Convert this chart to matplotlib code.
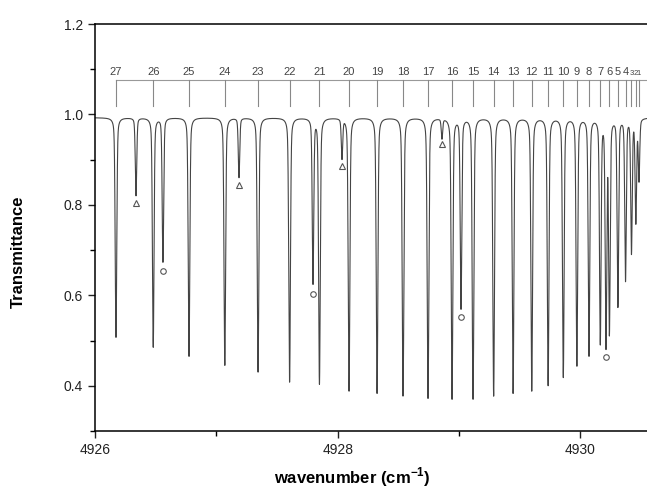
import numpy as np
import matplotlib
matplotlib.use('Agg')
import matplotlib.pyplot as plt
from matplotlib.ticker import MultipleLocator, FormatStrFormatter

plt.rcParams['font.family'] = ['Liberation Sans', 'DejaVu Sans']

# rotational assignment (J labels) and line positions / minimum transmittance
J_labels = [27, 26, 25, 24, 23, 22, 21, 20, 19, 18, 17, 16, 15, 14,
            13, 12, 11, 10, 9, 8, 7, 6, 5, 4, 3, 2, 1]
line_pos = [4926.173, 4926.480, 4926.775, 4927.070, 4927.344, 4927.604,
            4927.850, 4928.094, 4928.325, 4928.539, 4928.745, 4928.943,
            4929.116, 4929.286, 4929.446, 4929.600, 4929.735, 4929.860,
            4929.972, 4930.072, 4930.165, 4930.240, 4930.310, 4930.373,
            4930.422, 4930.458, 4930.484]
line_min = [0.507, 0.485, 0.465, 0.445, 0.430, 0.408, 0.403, 0.388, 0.383,
            0.377, 0.372, 0.370, 0.370, 0.377, 0.383, 0.388, 0.400, 0.418,
            0.443, 0.465, 0.490, 0.510, 0.573, 0.630, 0.690, 0.757, 0.850]

# weaker lines marked with triangles and circles
tri_pos = [4926.338, 4927.187, 4928.036, 4928.860]
tri_min = [0.820, 0.860, 0.900, 0.945]
tri_mark = [0.805, 0.845, 0.885, 0.935]
circ_pos = [4926.560, 4927.797, 4929.017, 4930.212]
circ_min = [0.673, 0.624, 0.569, 0.480]
circ_mark = [0.653, 0.602, 0.551, 0.463]

baseline = 0.993
sigma = 0.006
gamma = 0.006

# build transmittance from the line list (pseudo-Voigt absorbance profiles)
centers = np.array(line_pos + tri_pos + circ_pos)
targets = np.array(line_min + tri_min + circ_min)
A = -np.log(targets / baseline)


def spectrum(x, A):
    d = x[:, None] - centers[None, :]
    prof = (0.6 * np.exp(-d ** 2 / (2 * sigma ** 2))
            + 0.4 * gamma ** 2 / (gamma ** 2 + d ** 2))
    return baseline * np.exp(-(prof * A[None, :]).sum(axis=1))


for it in range(40):
    model = spectrum(centers, A)
    A = np.clip(A + np.log(model / targets), 0.001, None)

wn = np.linspace(4926.0, 4930.56, 24000)
T = spectrum(wn, A)

fig = plt.figure(figsize=(6.47, 4.96), dpi=100)
ax = fig.add_axes([95 / 647, 65 / 496, 552 / 647, 407 / 496])

ax.plot(wn, T, color='#444444', lw=0.8)
ax.plot(tri_pos, tri_mark, linestyle='none', marker='^', ms=5,
        mfc='none', mec='#555555', mew=0.8)
ax.plot(circ_pos, circ_mark, linestyle='none', marker='o', ms=4,
        mfc='none', mec='#555555', mew=0.8)

# assignment bracket
y_bar, y_tick = 1.076, 1.018
ax.plot([line_pos[0], 4930.56], [y_bar, y_bar], color='#999999', lw=0.8)
for p, j in zip(line_pos, J_labels):
    ax.plot([p, p], [y_tick, y_bar], color='#888888', lw=0.8)
    ax.text(p, y_bar + 0.006, str(j), ha='center', va='bottom',
            fontsize=8 if j > 3 else 5.5, color='#444444')

ax.set_xlim(4926, 4930.55)
ax.set_ylim(0.3, 1.2)
ax.xaxis.set_major_locator(MultipleLocator(2))
ax.xaxis.set_minor_locator(MultipleLocator(1))
ax.yaxis.set_major_locator(MultipleLocator(0.2))
ax.yaxis.set_minor_locator(MultipleLocator(0.1))
ax.yaxis.set_major_formatter(FormatStrFormatter('%.1f'))
ax.tick_params(which='major', direction='out', length=5, width=1,
               labelsize=10, colors='#222222')
ax.tick_params(which='minor', direction='out', length=3.5, width=1)
ax.tick_params(top=False, right=False)
ax.spines['right'].set_visible(False)
for s in ['left', 'bottom', 'top']:
    ax.spines[s].set_linewidth(1.1)

ax.set_xlabel('wavenumber (cm$^{\\mathregular{-1}}$)', fontsize=12,
              fontweight='bold')
ax.set_ylabel('Transmittance', fontsize=12, fontweight='bold')
ax.xaxis.set_label_coords(0.466, -0.085)
ax.yaxis.set_label_coords(-0.125, 0.44)

plt.savefig('out.png', dpi=100)
